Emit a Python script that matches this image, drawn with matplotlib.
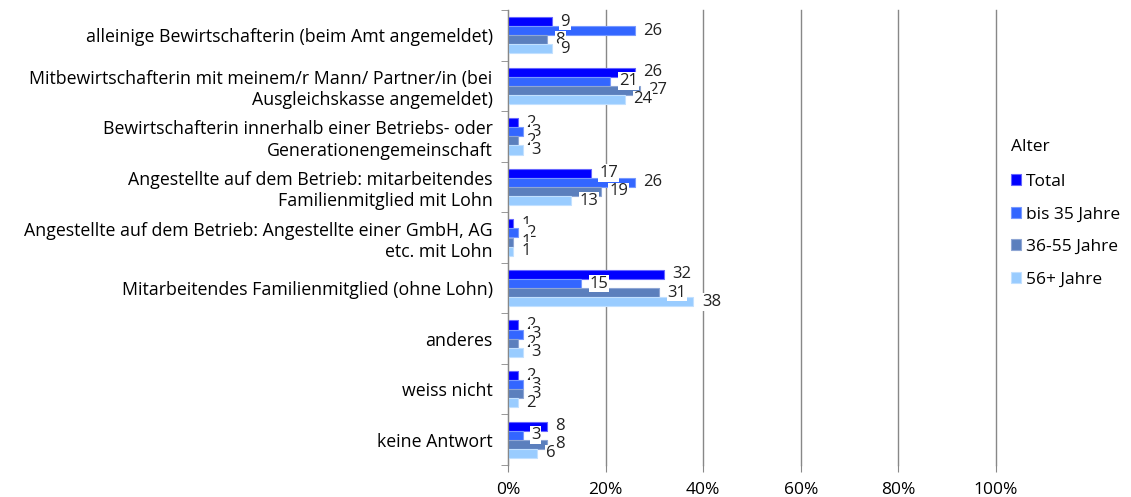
import matplotlib.pyplot as plt
import numpy as np

plt.rcParams['font.family'] = ['Open Sans', 'DejaVu Sans']

categories = [
    'alleinige Bewirtschafterin (beim Amt angemeldet)',
    'Mitbewirtschafterin mit meinem/r Mann/ Partner/in (bei\nAusgleichskasse angemeldet)',
    'Bewirtschafterin innerhalb einer Betriebs- oder\nGenerationengemeinschaft',
    'Angestellte auf dem Betrieb: mitarbeitendes\nFamilienmitglied mit Lohn',
    'Angestellte auf dem Betrieb: Angestellte einer GmbH, AG\netc. mit Lohn',
    'Mitarbeitendes Familienmitglied (ohne Lohn)',
    'anderes',
    'weiss nicht',
    'keine Antwort',
]
series_names = ['Total', 'bis 35 Jahre', '36-55 Jahre', '56+ Jahre']
total = [9, 26, 2, 17, 1, 32, 2, 2, 8]
bis35 = [26, 21, 3, 26, 2, 15, 3, 3, 3]
mid = [8, 27, 2, 19, 1, 31, 2, 3, 8]
old = [9, 24, 3, 13, 1, 38, 3, 2, 6]
ticks = [0, 20, 40, 60, 80, 100]

colors = ['#0000ff', '#3366ff', '#5b7fbd', '#99ccff']
edges = ['#6666ff', '#7799ff', '#8fa6d4', '#c2e0ff']

fig = plt.figure(figsize=(11.31, 4.97), dpi=100)
ax = fig.add_axes([508 / 1131, 32 / 497, 488 / 1131, 455 / 497])

y = np.arange(len(categories))
h = 0.18
offsets = [-1.5 * h, -0.5 * h, 0.5 * h, 1.5 * h]
data = [total, bis35, mid, old]

for vals, name, c, ec, off in zip(data, series_names, colors, edges, offsets):
    ax.barh(y + off, vals, height=h, color=c, edgecolor=ec, linewidth=0.8,
            label=name, zorder=2)

for vals, off in zip(data, offsets):
    for yi, v in zip(y, vals):
        ax.annotate(str(v), (v, yi + off), xytext=(6, 0), textcoords='offset points',
                    ha='left', va='center', fontsize=12, color='#222222',
                    bbox=dict(boxstyle='square,pad=0.05', fc='white', ec='none'),
                    zorder=5)

ax.set_xlim(0, 100)
ax.set_ylim(len(categories) - 0.5, -0.5)
ax.set_xticks(ticks)
ax.set_xticklabels([f'{t}%' for t in ticks], fontsize=12.5)
ax.set_yticks(y)
ax.set_yticklabels(categories, fontsize=12.8, linespacing=1.25)
ax.set_yticks(np.arange(len(categories) + 1) - 0.5, minor=True)
ax.tick_params(axis='y', which='major', length=0, pad=11)
ax.tick_params(axis='y', which='minor', length=5, color='#888888', direction='out')
ax.tick_params(axis='x', length=5, color='#888888', pad=7)
ax.grid(axis='x', color='#888888', linewidth=1, zorder=0)
ax.set_axisbelow(True)
for gl in ax.get_xgridlines():
    gl.set_clip_on(False)
for s in ['top', 'right', 'bottom']:
    ax.spines[s].set_visible(False)
ax.spines['left'].set_color('#888888')

leg = ax.legend(loc='upper left', bbox_to_anchor=(995 / 1131, 1 - 123 / 497),
                bbox_transform=fig.transFigure, frameon=False, title='Alter',
                fontsize=12.5, title_fontsize=12.5, handlelength=0.6,
                handleheight=0.6, handletextpad=0.3, labelspacing=0.95)
leg._legend_box.align = 'left'
leg._legend_box.sep = 14

fig.savefig('out.png', dpi=100)
